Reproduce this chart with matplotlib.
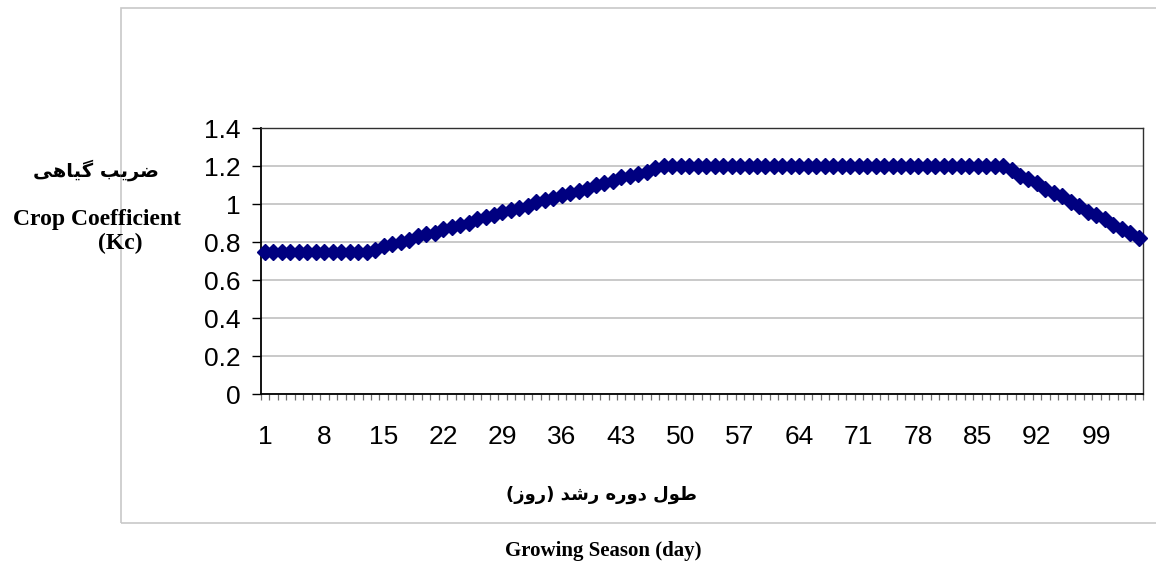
#!/usr/bin/env python3
"""Crop coefficient (Kc) curve over the growing season."""

import matplotlib
matplotlib.use("Agg")
import matplotlib.pyplot as plt
from matplotlib.patches import Rectangle

# day number of each point and its Kc value
days = list(range(1, 105))
kc = [0.75] * 13 + [
    0.76, 0.78, 0.79, 0.80, 0.81, 0.83, 0.84, 0.85, 0.87, 0.88,
    0.89, 0.90, 0.92, 0.93, 0.94, 0.96, 0.97, 0.98, 0.99, 1.01,
    1.02, 1.03, 1.05, 1.06, 1.07, 1.08, 1.10, 1.11, 1.12, 1.14,
    1.15, 1.16, 1.17, 1.19,
] + [1.20] * 41 + [
    1.18, 1.15, 1.13, 1.11, 1.08, 1.06, 1.04, 1.01, 0.99, 0.96,
    0.94, 0.92, 0.89, 0.87, 0.85, 0.82,
]
xtick_labels = [1, 8, 15, 22, 29, 36, 43, 50, 57, 64, 71, 78, 85, 92, 99]
yticks = [0, 0.2, 0.4, 0.6, 0.8, 1.0, 1.2, 1.4]
ytick_labels = ["0", "0.2", "0.4", "0.6", "0.8", "1", "1.2", "1.4"]

# Persian labels, written in presentation forms so they join without a shaper
fa_ylabel = "\uFBFD\uFEEB\uFE8E\uFBFF\uFB94 \uFE90\uFBFE\uFEAE\uFEBF"   # ضریب گیاهی
fa_xlabel = ("(\uFEAF\uFEED\uFEAD) \uFEAA\uFEB7\uFEAD "
             "\uFEE9\uFEAD\uFEED\uFEA9 \uFEDD\uFEEE\uFEC3")            # طول دوره رشد (روز)

W, H = 1156, 565
fig = plt.figure(figsize=(W / 100, H / 100), dpi=100)
fig.patch.set_facecolor("white")

# outer chart-area frame (runs off the right edge like the original)
fig.patches.append(Rectangle((121 / W, 1 - 523 / H), 1.2, (523 - 8) / H,
                             transform=fig.transFigure, fill=False,
                             edgecolor="#c8c8c8", linewidth=1.2))

ax = fig.add_axes([260.7 / W, 1 - 394 / H, (1143 - 260.7) / W, (394 - 128) / H])
ax.plot(days, kc, color="#000080", linewidth=2.8, marker="D",
        markersize=8, markeredgecolor="#000080", markerfacecolor="#000080",
        clip_on=False, zorder=3)

ax.set_xlim(0.5, 104.5)
ax.set_ylim(0, 1.4)

ax.set_yticks(yticks)
ax.set_yticklabels(ytick_labels)
ax.yaxis.grid(True, color="#c0c0c0", linewidth=1.2)
ax.set_axisbelow(True)

# category boundaries carry the tick marks, labels sit on the categories
ax.set_xticks([d - 0.5 for d in days] + [104.5])
ax.set_xticklabels([])
ax.set_xticks(xtick_labels, minor=True)
ax.set_xticklabels([str(v) for v in xtick_labels], minor=True)
ax.tick_params(axis="x", which="major", direction="out", length=4,
               width=0.9, color="#707070")
ax.tick_params(axis="x", which="minor", length=0, pad=22, labelsize=19)
ax.tick_params(axis="y", direction="out", length=6.5, width=1, pad=8,
               labelsize=19)

for lab in ax.get_xticklabels(minor=True) + ax.get_yticklabels():
    lab.set_family("Liberation Sans")

for side in ["left", "bottom"]:
    ax.spines[side].set_color("black")
    ax.spines[side].set_linewidth(1.3)
for side in ["top", "right"]:
    ax.spines[side].set_color("#303030")
    ax.spines[side].set_linewidth(1.0)

# axis titles placed like the original text boxes
fig.text(96 / W, 1 - 170 / H, fa_ylabel, ha="center", va="center",
         fontsize=14, fontweight="bold", family=["DejaVu Sans"])
fig.text(97 / W, 1 - 219 / H, "Crop Coefficient", ha="center", va="center",
         fontsize=17, fontweight="bold", family="Liberation Serif")
fig.text(120 / W, 1 - 243 / H, "(Kc)", ha="center", va="center",
         fontsize=17, fontweight="bold", family="Liberation Serif")
fig.text(602 / W, 1 - 495 / H, fa_xlabel, ha="center", va="center",
         fontsize=13, fontweight="bold", family=["DejaVu Sans"])
fig.text(603 / W, 1 - 551 / H, "Growing Season (day)", ha="center",
         va="center", fontsize=15, fontweight="bold", family="Liberation Serif")

fig.savefig("out.png", dpi=100)
